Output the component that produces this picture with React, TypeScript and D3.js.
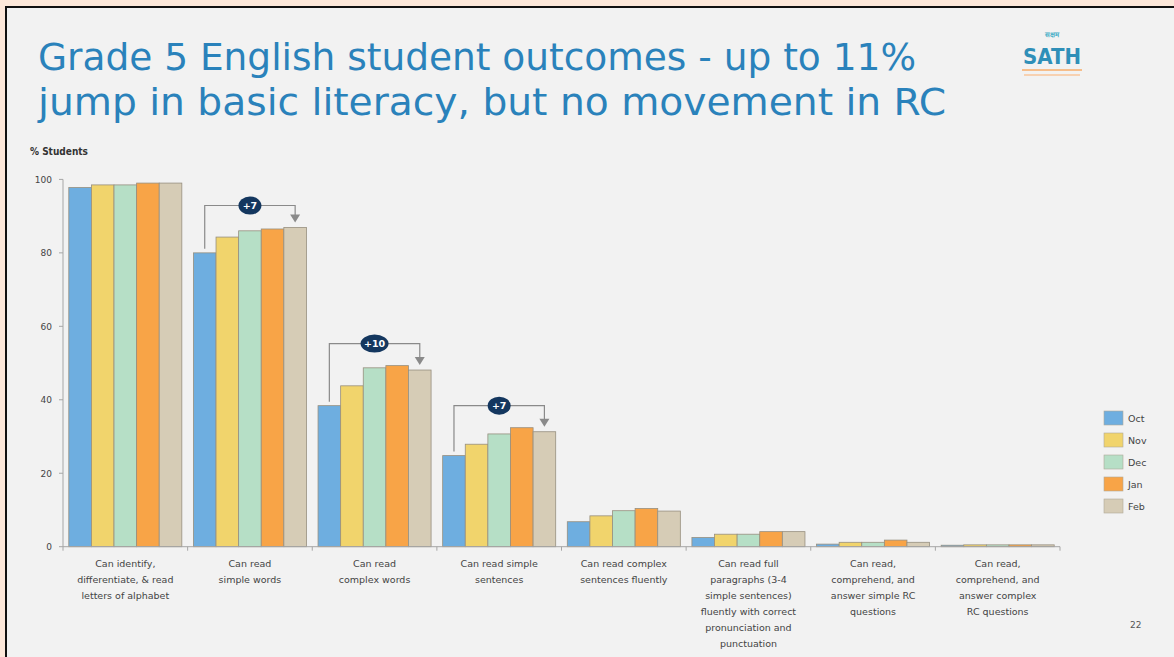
import React from "react";
import * as d3 from "d3";

const W = 1174;
const H = 657;

const categories: string[][] = [
  ["Can identify,", "differentiate, & read", "letters of alphabet"],
  ["Can read", "simple words"],
  ["Can read", "complex words"],
  ["Can read simple", "sentences"],
  ["Can read complex", "sentences fluently"],
  ["Can read full", "paragraphs (3-4", "simple sentences)", "fluently with correct", "pronunciation and", "punctuation"],
  ["Can read,", "comprehend, and", "answer simple RC", "questions"],
  ["Can read,", "comprehend, and", "answer complex", "RC questions"],
];

const months = ["Oct", "Nov", "Dec", "Jan", "Feb"];

const octValues = [97.8, 80.0, 38.4, 24.8, 6.8, 2.5, 0.7, 0.4];
const novValues = [98.5, 84.3, 43.8, 27.9, 8.4, 3.4, 1.2, 0.5];
const decValues = [98.5, 86.0, 48.7, 30.7, 9.8, 3.4, 1.2, 0.5];
const janValues = [99.0, 86.5, 49.3, 32.4, 10.4, 4.1, 1.8, 0.5];
const febValues = [99.0, 86.9, 48.1, 31.3, 9.7, 4.1, 1.2, 0.5];

const yTicks = [0, 20, 40, 60, 80, 100];

const annotationCats = [1, 2, 3];
const annotationLabels = ["+7", "+10", "+7"];

const titleLines = [
  "Grade 5 English student outcomes - up to 11%",
  "jump in basic literacy, but no movement in RC",
];

const colors = ["#6eaee0", "#f1d46c", "#b6dfc6", "#f8a447", "#d6ccb6"];

export default function App() {
  const series = [octValues, novValues, decValues, janValues, febValues];
  const x0 = 63;
  const x1 = 1060;
  const x = d3
    .scaleBand<number>()
    .domain(categories.map((_, i) => i))
    .range([x0, x1])
    .paddingInner(0.093)
    .paddingOuter(0.0465);
  const xi = d3
    .scaleBand<number>()
    .domain(months.map((_, i) => i))
    .range([0, x.bandwidth()]);
  const y = d3.scaleLinear().domain([0, 100]).range([546.7, 179.4]);
  const step = x.step();
  const font = "'DejaVu Sans', Verdana, sans-serif";
  const titleWidths = [878, 908];

  return (
    <svg
      width={W}
      height={H}
      style={{ position: "absolute", left: 0, top: 0 }}
      fontFamily={font}
    >
      <rect x={0} y={0} width={W} height={H} fill="#fde8da" />
      <rect x={5} y={6} width={W - 5} height={H - 6} fill="#f2f2f2" />
      <line x1={5} x2={W} y1={7} y2={7} stroke="#111" strokeWidth={2} />
      <line x1={6} x2={6} y1={6} y2={H} stroke="#111" strokeWidth={2} />

      {titleLines.map((t, i) => (
        <text
          key={t}
          x={38}
          y={70 + i * 45}
          fontSize={38}
          fill="#2a82bb"
          textLength={titleWidths[i]}
          lengthAdjust="spacingAndGlyphs"
          fontFamily="'DejaVu Sans Condensed', 'DejaVu Sans', sans-serif"
        >
          {t}
        </text>
      ))}

      {/* logo */}
      <g>
        <text x={1052} y={37} fontSize={7} fill="#4bb0c8" textAnchor="middle" fontWeight="bold">
          सक्षम
        </text>
        <text x={1052} y={64} fontSize={22} fill="#2f8fb8" textAnchor="middle" fontWeight="bold" fontFamily="'DejaVu Sans Condensed', sans-serif">
          SATH
        </text>
        <rect x={1022} y={69} width={60} height={2} fill="#f6b070" opacity={0.8} />
        <rect x={1024} y={74} width={56} height={2} fill="#f8c8a0" opacity={0.8} />
      </g>

      <text x={30} y={155} fontSize={10} fill="#333" fontWeight="bold" fontFamily="'DejaVu Sans Condensed', sans-serif">
        % Students
      </text>

      {/* y axis */}
      <line x1={x0} x2={x0} y1={y(100)} y2={y(0)} stroke="#a6a6a6" />
      {yTicks.map((t) => (
        <g key={t}>
          <line x1={x0 - 4} x2={x0} y1={y(t)} y2={y(t)} stroke="#a6a6a6" />
          <text x={52} y={y(t) + 3.5} fontSize={9} fill="#444" textAnchor="end">
            {t}
          </text>
        </g>
      ))}

      {/* bars */}
      {categories.map((_, ci) =>
        series.map((vals, si) => (
          <rect
            key={`${ci}-${si}`}
            x={(x(ci) as number) + (xi(si) as number)}
            y={y(vals[ci])}
            width={xi.bandwidth()}
            height={y(0) - y(vals[ci])}
            fill={colors[si]}
            stroke="#978f7f"
            strokeWidth={0.8}
          />
        ))
      )}

      {/* x axis */}
      <line x1={x0} x2={x1} y1={y(0)} y2={y(0)} stroke="#a6a6a6" />
      {d3.range(categories.length + 1).map((i) => (
        <line
          key={i}
          x1={x0 + i * step}
          x2={x0 + i * step}
          y1={y(0)}
          y2={y(0) + 4}
          stroke="#a6a6a6"
        />
      ))}
      {categories.map((lines, ci) => (
        <text
          key={ci}
          x={(x(ci) as number) + x.bandwidth() / 2}
          y={567}
          fontSize={9.5}
          fill="#444"
          textAnchor="middle"
        >
          {lines.map((l, li) => (
            <tspan key={li} x={(x(ci) as number) + x.bandwidth() / 2} dy={li === 0 ? 0 : 16}>
              {l}
            </tspan>
          ))}
        </text>
      ))}

      {/* annotations */}
      {annotationCats.map((ci, k) => {
        const left = (x(ci) as number) + (xi(0) as number) + xi.bandwidth() / 2;
        const right = (x(ci) as number) + (xi(4) as number) + xi.bandwidth() / 2;
        const maxV = d3.max(series.map((s) => s[ci])) as number;
        const ly = y(maxV) - 22;
        const startY = y(octValues[ci]) - 4;
        const tipY = y(febValues[ci]) - 5;
        const cx = (left + right) / 2;
        const rx = annotationLabels[k].length > 2 ? 14 : 11.5;
        return (
          <g key={ci}>
            <polyline
              points={`${left},${startY} ${left},${ly} ${right},${ly} ${right},${tipY - 6}`}
              fill="none"
              stroke="#8a8a8a"
              strokeWidth={1.2}
            />
            <path
              d={`M${right - 5},${tipY - 8} L${right + 5},${tipY - 8} L${right},${tipY} Z`}
              fill="#8a8a8a"
            />
            <ellipse cx={cx} cy={ly} rx={rx} ry={9} fill="#14375f" />
            <text x={cx} y={ly + 3.5} fontSize={9.5} fill="#fff" textAnchor="middle" fontWeight="bold">
              {annotationLabels[k]}
            </text>
          </g>
        );
      })}

      {/* legend */}
      {months.map((m, i) => (
        <g key={m}>
          <rect x={1104} y={411 + i * 22} width={19} height={14} fill={colors[i]} stroke="#b0a898" strokeWidth={0.6} />
          <text x={1128} y={422 + i * 22} fontSize={9.5} fill="#444">
            {m}
          </text>
        </g>
      ))}

      <text x={1130} y={628} fontSize={9} fill="#555">
        22
      </text>
    </svg>
  );
}
